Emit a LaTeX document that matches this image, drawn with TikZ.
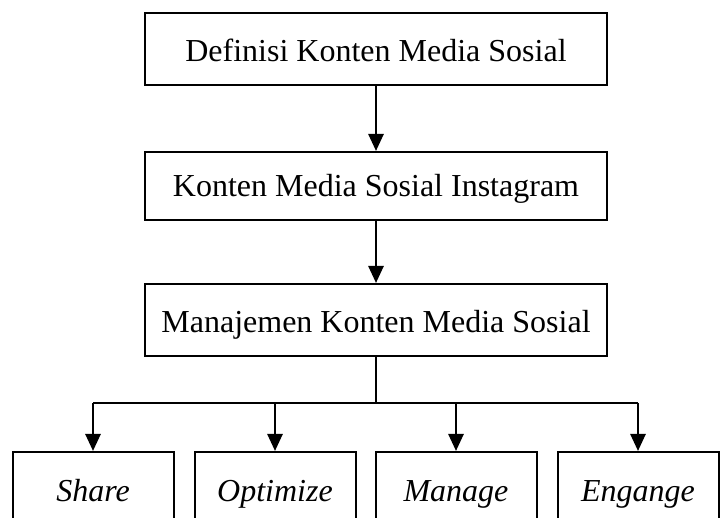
\documentclass[tikz,border=0pt]{standalone}
\usepackage{fontspec}
\setmainfont{Liberation Serif}
\usetikzlibrary{arrows.meta}
\begin{document}
\begin{tikzpicture}[x=1pt,y=1pt,
  box/.style={draw, line width=2pt, inner sep=0pt, font=\fontsize{32}{38}\selectfont},
  topbox/.style={box, minimum width=462pt, text height=49pt, text depth=23pt},
  leaf/.style={box, minimum width=161pt, text height=50pt, text depth=20pt, font=\fontsize{32}{38}\selectfont\itshape},
  conn/.style={line width=2.6pt, -{Triangle[length=17pt,width=15pt]}},
  trunk/.style={line width=2.6pt},
]
\useasboundingbox (0,0) rectangle (727,518);
\clip (0,0) rectangle (727,518);
\node[topbox] (a) at (376,469) {Definisi Konten Media Sosial};
\node[topbox, text height=45pt] (b) at (376,332) {Konten Media Sosial Instagram};
\node[topbox] (c) at (376,198) {Manajemen Konten Media Sosial};
\node[leaf] (s) at (93,31) {Share};
\node[leaf] (o) at (275,31) {Optimize};
\node[leaf] (m) at (456,31) {Manage};
\node[leaf] (e) at (638,31) {Engange};
\coordinate (j) at (376,115);
\draw[conn] (a) -- (b);
\draw[conn] (b) -- (c);
\draw[trunk] (c.south) -- (j);
\draw[trunk] (s.north |- j) -- (e.north |- j);
\foreach \n in {s,o,m,e} \draw[conn] (\n.north |- j) -- (\n.north);
\end{tikzpicture}
\end{document}
